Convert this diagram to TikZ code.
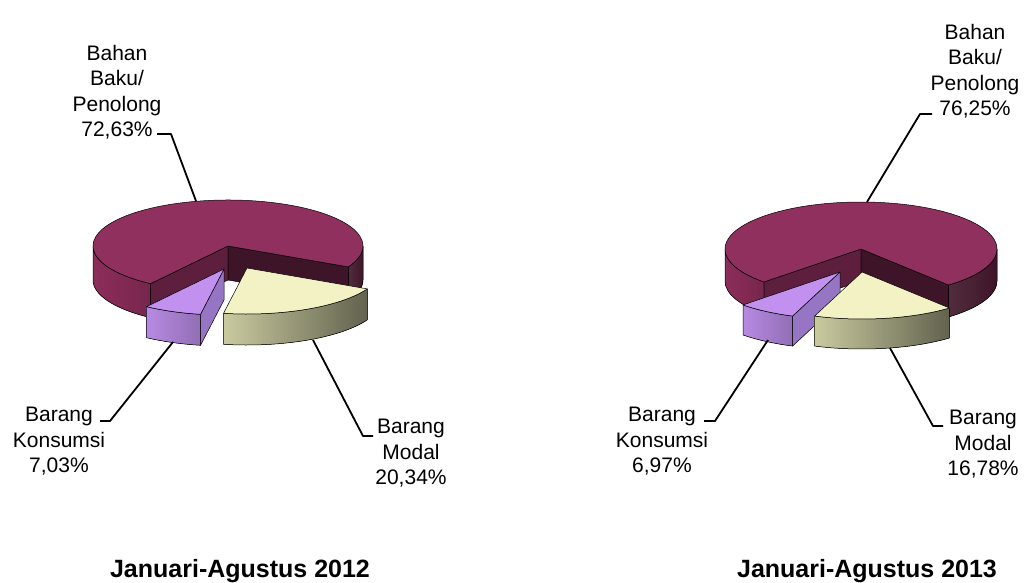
\documentclass[tikz,border=0pt]{standalone}
\usepackage{fontspec}
\setmainfont{Liberation Sans}
\definecolor{bahantop}{RGB}{143,48,94}
\definecolor{bahanside}{RGB}{140,45,90}
\definecolor{bahancutl}{RGB}{94,31,62}
\definecolor{bahancutr}{RGB}{62,21,40}
\definecolor{konstop}{RGB}{194,145,240}
\definecolor{konsside}{RGB}{182,138,226}
\definecolor{konscut}{RGB}{150,118,196}
\definecolor{modaltop}{RGB}{242,242,196}
\definecolor{modalside}{RGB}{202,202,160}
\definecolor{modaldark}{RGB}{98,98,78}

\begin{document}
\begin{tikzpicture}[x=1pt,y=-1pt,line join=round,
    face/.style={draw=black,line width=0.5pt},
    leader/.style={draw,line width=1.8pt},
    lbl/.style={align=center,inner sep=0pt,anchor=north,font=\fontsize{21}{25.5}\selectfont},
    ttl/.style={anchor=base,inner sep=0pt,font=\fontsize{25}{29}\selectfont\bfseries}]
    \useasboundingbox (0,0) rectangle (1025,583);
    \begin{scope}[shift={(228,246)}]
        \filldraw[face,left color=bahanside,right color=bahanside!85!black] (125:135 and 46) arc[start angle=125,end angle=180,x radius=135,y radius=46] -- ++(0,34) arc[start angle=180,end angle=125,x radius=135,y radius=46] -- cycle;
        \filldraw[face,left color=bahancutr!90!white,right color=bahancutr] (27:135 and 46) arc[start angle=27,end angle=0,x radius=135,y radius=46] -- ++(0,34) arc[start angle=0,end angle=27,x radius=135,y radius=46] -- cycle;
        \filldraw[face,fill=bahancutl] (0,0) -- (125:135 and 46) -- ++(0,34) -- (0,34) -- cycle;
        \filldraw[face,fill=bahancutr] (0,0) -- (27:135 and 46) -- ++(0,34) -- (0,34) -- cycle;
        \filldraw[face,fill=bahantop] (0,0) -- (27:135 and 46) arc[start angle=27,end angle=-235,x radius=135,y radius=46] -- cycle;
    \end{scope}
    \begin{scope}[shift={(224,269)}]
        \filldraw[face,left color=konsside,right color=konsside!80!black] (100:135 and 46) arc[start angle=100,end angle=125,x radius=135,y radius=46] -- ++(0,31) arc[start angle=125,end angle=100,x radius=135,y radius=46] -- cycle;
        \filldraw[face,fill=konscut] (0,0) -- (100:135 and 46) -- ++(0,31) -- (0,31) -- cycle;
        \filldraw[face,fill=konstop] (0,0) -- (100:135 and 46) arc[start angle=100,end angle=125,x radius=135,y radius=46] -- cycle;
    \end{scope}
    \begin{scope}[shift={(247,268)}]
        \filldraw[face,left color=modalside,right color=modaldark] (27:135 and 46) arc[start angle=27,end angle=100,x radius=135,y radius=46] -- ++(0,31) arc[start angle=100,end angle=27,x radius=135,y radius=46] -- cycle;
        \filldraw[face,fill=modaltop] (0,0) -- (27:135 and 46) arc[start angle=27,end angle=100,x radius=135,y radius=46] -- cycle;
    \end{scope}
    \begin{scope}[shift={(861,249)}]
        \filldraw[face,left color=bahanside,right color=bahanside!85!black] (135.5:136 and 47) arc[start angle=135.5,end angle=180,x radius=136,y radius=47] -- ++(0,32) arc[start angle=180,end angle=135.5,x radius=136,y radius=47] -- cycle;
        \filldraw[face,left color=bahancutr!90!white,right color=bahancutr] (50:136 and 47) arc[start angle=50,end angle=0,x radius=136,y radius=47] -- ++(0,32) arc[start angle=0,end angle=50,x radius=136,y radius=47] -- cycle;
        \filldraw[face,fill=bahancutl] (0,0) -- (135.5:136 and 47) -- ++(0,32) -- (0,32) -- cycle;
        \filldraw[face,fill=bahancutr] (0,0) -- (50:136 and 47) -- ++(0,32) -- (0,32) -- cycle;
        \filldraw[face,fill=bahantop] (0,0) -- (50:136 and 47) arc[start angle=50,end angle=-224.5,x radius=136,y radius=47] -- cycle;
    \end{scope}
    \begin{scope}[shift={(840,272)}]
        \filldraw[face,left color=konsside,right color=konsside!80!black] (110.4:136 and 47) arc[start angle=110.4,end angle=135.5,x radius=136,y radius=47] -- ++(0,30) arc[start angle=135.5,end angle=110.4,x radius=136,y radius=47] -- cycle;
        \filldraw[face,fill=konscut] (0,0) -- (110.4:136 and 47) -- ++(0,30) -- (0,30) -- cycle;
        \filldraw[face,fill=konstop] (0,0) -- (110.4:136 and 47) arc[start angle=110.4,end angle=135.5,x radius=136,y radius=47] -- cycle;
    \end{scope}
    \begin{scope}[shift={(862,272)}]
        \filldraw[face,left color=modalside,right color=modaldark] (50:136 and 47) arc[start angle=50,end angle=110.4,x radius=136,y radius=47] -- ++(0,30) arc[start angle=110.4,end angle=50,x radius=136,y radius=47] -- cycle;
        \filldraw[face,fill=modaltop] (0,0) -- (50:136 and 47) arc[start angle=50,end angle=110.4,x radius=136,y radius=47] -- cycle;
    \end{scope}
    \node[lbl] (bahanA) at (117,45) {Bahan\\Baku/\\Penolong\\72,63\%};
    \node[lbl] (konsA) at (59,407) {Barang\\Konsumsi\\7,03\%};
    \node[lbl] (modalA) at (411,419) {Barang\\Modal\\20,34\%};
    \node[lbl] (bahanB) at (975,24) {Bahan\\Baku/\\Penolong\\76,25\%};
    \node[lbl] (konsB) at (662,407) {Barang\\Konsumsi\\6,97\%};
    \node[lbl] (modalB) at (983,410) {Barang\\Modal\\16,78\%};
    \node[ttl] (titleA) at (240,577) {Januari-Agustus 2012};
    \node[ttl] (titleB) at (867,577) {Januari-Agustus 2013};
    \coordinate (bahanAs) at (157,134);
    \coordinate (bahanAk) at (171,134);
    \coordinate (bahanAe) at (196,201);
    \coordinate (konsAs) at (100,421);
    \coordinate (konsAk) at (110,421);
    \coordinate (konsAe) at (173,342);
    \coordinate (modalAs) at (373,436);
    \coordinate (modalAk) at (363,436);
    \coordinate (modalAe) at (313,340);
    \coordinate (bahanBs) at (932,114);
    \coordinate (bahanBk) at (920,114);
    \coordinate (bahanBe) at (867,202);
    \coordinate (konsBs) at (704,421);
    \coordinate (konsBk) at (715,421);
    \coordinate (konsBe) at (768,340);
    \coordinate (modalBs) at (943,426);
    \coordinate (modalBk) at (933,426);
    \coordinate (modalBe) at (890,348);
    \draw[leader] (bahanAs) -- (bahanAk) -- (bahanAe);
    \draw[leader] (konsAs) -- (konsAk) -- (konsAe);
    \draw[leader] (modalAs) -- (modalAk) -- (modalAe);
    \draw[leader] (bahanBs) -- (bahanBk) -- (bahanBe);
    \draw[leader] (konsBs) -- (konsBk) -- (konsBe);
    \draw[leader] (modalBs) -- (modalBk) -- (modalBe);
\end{tikzpicture}
\end{document}
